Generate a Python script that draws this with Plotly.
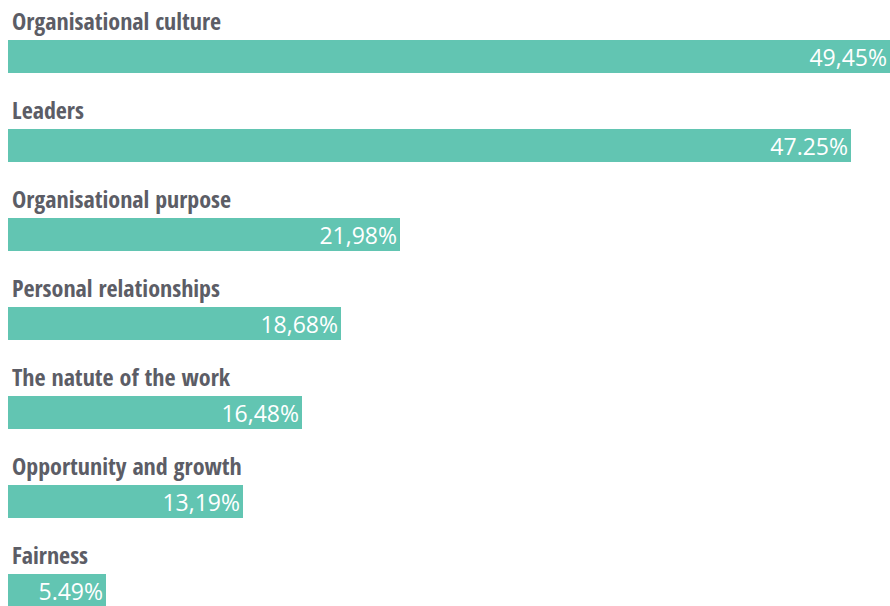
import plotly.graph_objects as go

# Drivers and their share of responses (%)
categories = [
    "Organisational culture",
    "Leaders",
    "Organisational purpose",
    "Personal relationships",
    "The natute of the work",
    "Opportunity and growth",
    "Fairness",
]
values = [49.45, 47.25, 21.98, 18.68, 16.48, 13.19, 5.49]
value_labels = ["49,45%", "47.25%", "21,98%", "18,68%", "16,48%", "13,19%", "5.49%"]

BAR_COLOR = "#62c5b2"
LABEL_COLOR = "#5c5d66"
LABEL_FONT = "Open Sans Condensed, Roboto Condensed, Open Sans"

fig = go.Figure(
    go.Bar(
        x=values,
        y=categories,
        orientation="h",
        width=0.37,
        marker=dict(color=BAR_COLOR, line=dict(width=0)),
        text=value_labels,
        textposition="inside",
        insidetextanchor="end",
        textangle=0,
        textfont=dict(family="Open Sans", size=23, color="white"),
        cliponaxis=True,
        hoverinfo="skip",
    )
)

# Category names sit above each bar, left aligned
for cat in categories:
    fig.add_annotation(
        x=0, y=cat, xref="x", yref="y",
        text=f"<b>{cat}</b>",
        showarrow=False, xanchor="left", yanchor="middle",
        xshift=2, yshift=36,
        font=dict(family=LABEL_FONT, size=24, color=LABEL_COLOR),
    )

fig.update_layout(
    width=890, height=606,
    margin=dict(l=8, r=0, t=0, b=0),
    paper_bgcolor="white", plot_bgcolor="white",
    showlegend=False, bargap=0,
    uniformtext=dict(mode="show", minsize=23),
    xaxis=dict(range=[0, 49.45], visible=False, fixedrange=True),
    yaxis=dict(type="category", categoryorder="array", categoryarray=categories,
               range=[6.169, -0.634], visible=False, fixedrange=True),
)

fig.write_html("out.html", config={"displayModeBar": False})
